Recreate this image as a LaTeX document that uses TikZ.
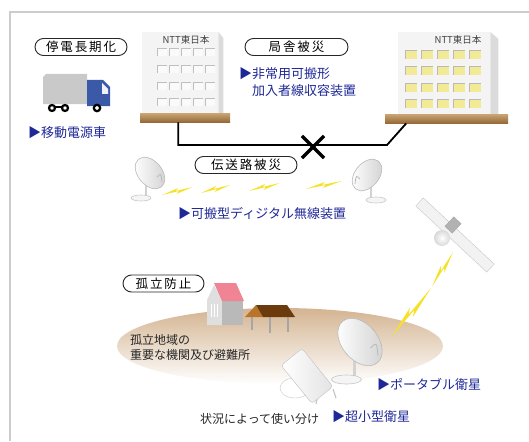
\documentclass[tikz,border=0pt]{standalone}
\usepackage{fontspec}
\setmainfont{Noto Sans CJK JP}
\newfontfamily\tagfont[LetterSpace=15]{Noto Sans CJK JP}
\usepackage{xcolor}
\usetikzlibrary{positioning, calc, shapes.misc, fadings}
\definecolor{navy}{RGB}{30,40,150}
\definecolor{soil}{RGB}{212,180,145}
\definecolor{slabtop}{RGB}{200,165,115}
\definecolor{slabbot}{RGB}{150,105,55}
\definecolor{lemon}{RGB}{242,234,150}
\definecolor{flash}{RGB}{245,226,40}
\definecolor{cab}{RGB}{58,90,168}
\definecolor{roof}{RGB}{240,132,148}
\definecolor{woodlight}{RGB}{184,116,42}
\definecolor{wooddark}{RGB}{107,59,14}
\tikzfading[name=soilfade, top color=transparent!0, middle color=transparent!20, bottom color=transparent!100]

\begin{document}
\begin{tikzpicture}[x=1pt, y=-1pt,
    tag/.style={draw=black!85, line width=0.9pt, rounded rectangle, minimum height=17pt,
      inner sep=0pt, font=\tagfont\fontsize{12.5}{14}\selectfont},
    note/.style={text=navy, font=\fontsize{13}{17}\selectfont, inner sep=0pt, align=left},
    plain/.style={text=black!85, font=\fontsize{12}{15}\selectfont, inner sep=0pt, align=left},
    logo/.style={text=black!75, font=\fontsize{9.5}{10}\selectfont, inner sep=0pt},
    front/.style={fill=gray!9, inner sep=0pt},
    ground/.style={top color=slabtop, bottom color=slabbot, inner sep=0pt},
    wire/.style={line width=1.8pt},
    cut/.style={draw, cross out, line width=3.2pt, minimum size=19pt, inner sep=0pt},
    bolt/.pic={\fill[flash] (0,0) -- (18,-7) -- (15,-4) -- (34,-8) -- (16,-1) -- (19,-4) -- cycle;},
    dish/.pic={
      \fill[gray!35] (-5,8) rectangle (-3,24);
      \filldraw[fill=gray!8, draw=gray!45, line width=0.6pt] (-9,25) ellipse [x radius=10, y radius=3];
      \draw[gray!55, line width=0.6pt, left color=white, right color=gray!35, rotate=-50]
        (0,0) ellipse [x radius=18, y radius=12];
      \draw[gray!55, line width=0.8pt] (7,4) .. controls (11,0) .. (12,9);
    }
  ]
  \useasboundingbox (0,0) rectangle (529,441);
  \draw[black!20, line width=1.2pt] (10,441) |- (529,12);

  % ground of the cut-off area
  \fill[soil, path fading=soilfade] (280,346) ellipse [x radius=163, y radius=38];

  % truck
  \fill[gray!42] (43,77) -- (46,74) -- (87,74) -- (87,104) -- (43,104) -- cycle;
  \fill[cab] (87,80) -- (103,80) -- (110,87) -- (110,106) -- (87,106) -- cycle;
  \fill[blue!6] (102,83) -- (108,89) -- (108,94) -- (102,94) -- cycle;
  \draw[line width=2pt] (52,107) -- (65,107);
  \draw[line width=2.2pt, fill=white] (52,108) circle (3) (65,108) circle (3) (97,108) circle (3.2);

  % telephone offices
  \node[front, minimum width=76, minimum height=81, anchor=north west] (bldL) at (142,32) {};
  \fill[gray!28] (bldL.north east) -- ++(5,6) |- (bldL.south east) -- cycle;
  \node[front, minimum width=92, minimum height=82, anchor=north west] (bldR) at (398,32) {};
  \fill[gray!28] (bldR.north east) -- ++(8,7) |- (bldR.south east) -- cycle;
  \foreach \wx in {157,169,181,193,205}
    \foreach \wy in {48,65,82,98} {
      \fill[gray!4] (\wx,\wy) rectangle ++(10,8);
      \draw[gray!50, line width=0.7pt] (\wx,\wy+8) |- ++(10,-8);
    }
  \foreach \wx in {405,421,437,453,469}
    \foreach \wy in {50,66,83,99} {
      \fill[lemon] (\wx,\wy) rectangle ++(12,9);
      \draw[gray!55, line width=0.7pt] (\wx,\wy+9) |- ++(12,-9);
    }
  \node[logo] (logoL) at (186,40) {NTT東日本};
  \node[logo] (logoR) at (458,40) {NTT東日本};
  \node[ground, minimum width=90, minimum height=9, anchor=north west] (slabL) at (140,113) {};
  \node[ground, minimum width=123, minimum height=9, anchor=north west] (slabR) at (385,114) {};

  % broken cable between the offices
  \coordinate (bend) at (387,145);
  \draw[wire] ([xshift=-7pt]slabL.south) |- (bend) -- ([xshift=-40.5pt]slabR.south);
  \node[cut] (cut) at (313,147) {};

  % radio link
  \pic at (150,173) {dish};
  \pic[xscale=-1] at (367,175) {dish};
  \foreach \bx/\by/\bs in {162/195/0.9, 201/193/0.85, 249/191/0.9, 306/189/1.05}
    \pic[xscale=\bs] at (\bx,\by) {bolt};

  % satellite
  \node[fill=gray!10, draw=gray!45, minimum width=97, minimum height=11, inner sep=0pt, rotate=-43] (wing) at (455,235) {};
  \node[fill=gray!60, draw=gray!70, minimum width=10, minimum height=13, inner sep=0pt, rotate=-43] (body) at (453,225) {};
  \shade[inner color=white, outer color=gray!30] (442,238) circle (8);
  \pic[rotate=-135, xscale=1.15, yscale=1.2] at (453,252) {bolt};
  \pic[rotate=-140, xscale=1.8, yscale=1.5] at (431,288) {bolt};

  % house and shelter
  \fill[gray!25] (207,300) -- (214,285) -- (222,300) -- (222,325) -- (207,325) -- cycle;
  \fill[gray!55] (222,300) rectangle (243,325);
  \fill[roof] (214,283) -- (236,283) -- (244,301) -- (222,301) -- cycle;
  \draw[white, line width=0.8pt] (211,304) -- (211,317) (214,304) -- (214,317) (217,304) -- (217,317);
  \draw[gray!70, line width=2pt] (252,317) -- (252,330) (270,317) -- (270,333) (288,317) -- (288,332);
  \fill[woodlight] (245,317) -- (256,305) -- (263,317) -- cycle;
  \fill[wooddark] (256,305) -- (287,305) -- (295,317) -- (263,317) -- cycle;

  % earth stations
  \pic[scale=1.5] at (360,342) {dish};
  \fill[white, draw=gray!45] (295,388) ellipse [x radius=15, y radius=10];
  \draw[gray!50, line width=1pt] (318,395) -- (316,404) (333,389) -- (336,398);
  \node[draw=gray!50, rounded corners=3pt, left color=white, right color=gray!22,
    minimum width=27, minimum height=49, inner sep=0pt, rotate=39] (flat) at (307,376) {};

  % labels
  \node[tag, minimum width=92] (outage) at (81,47) {停電長期化};
  \node[tag, minimum width=103] (office) at (296.5,47) {局舎被災};
  \node[tag, minimum width=102] (route) at (246,165) {伝送路被災};
  \node[tag, minimum width=81] (isolate) at (163.5,283.5) {孤立防止};

  \node[note, anchor=west] (truck) at (28,133) {▶移動電源車};
  \node[note, anchor=north west] (unit) at (239,67) {▶非常用可搬形\\\phantom{▶}加入者線収容装置};
  \node[note, anchor=west] (radio) at (178,214) {▶可搬型ディジタル無線装置};
  \node[note, anchor=west] (portable) at (377,385) {▶ポータブル衛星};
  \node[note, anchor=west] (compact) at (332,417) {▶超小型衛星};
  \node[plain, anchor=north west] (site) at (130,334) {孤立地域の\\重要な機関及び避難所};
  \node[plain, anchor=west] (usage) at (200,419) {状況によって使い分け};
\end{tikzpicture}
\end{document}
